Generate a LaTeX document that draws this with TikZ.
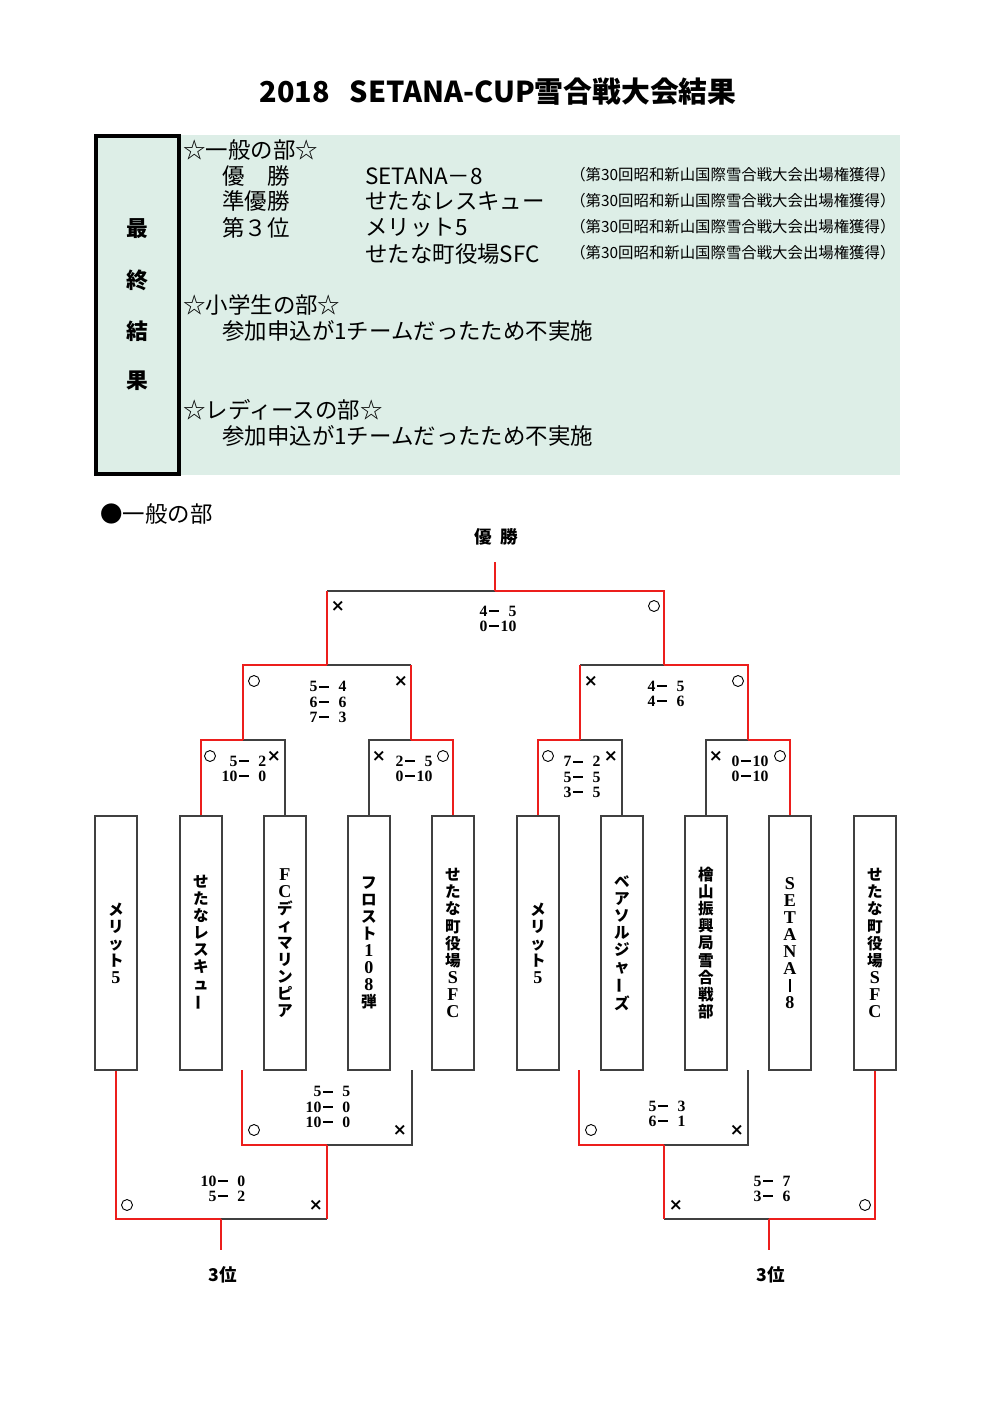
\documentclass[tikz,border=0pt]{standalone}
\usepackage{fontspec}
\usepackage{graphicx}
\setmainfont{Noto Sans CJK JP}
\newfontfamily\serifb{Liberation Serif}
\newfontfamily\djv{DejaVu Sans}
\definecolor{mint}{RGB}{221,238,231}
\definecolor{winred}{RGB}{236,30,28}
\definecolor{losegray}{RGB}{64,64,64}
\newcommand\dsh{\rule[0.26em]{0.6em}{0.13em}}
\newcommand\rr[1]{\makebox[1em][r]{#1}}
\newcommand\sct[1]{\begin{tabular}{@{}r@{\hspace{.12em}}c@{\hspace{.12em}}r@{}}#1\end{tabular}}
\newcommand\tatebo{\rotatebox[origin=c]{90}{ー}}
\newcommand\vrl{\rule[-0.05em]{0.16em}{0.85em}}
\newcommand\ls[1]{{\serifb\fontsize{10.8}{10.2}\selectfont #1}}
\tikzset{
  team/.style={draw=losegray, line width=0.9pt, minimum width=0.882cm, minimum height=5.334cm,
    inner sep=0pt, align=center, font=\bfseries\fontsize{9.3}{10.2}\selectfont},
  rl/.style={draw=winred, line width=1.1pt},
  bl/.style={draw=losegray, line width=0.9pt},
  score/.style={inner sep=0pt, font=\serifb\bfseries\fontsize{9.4}{9}\selectfont},
  omark/.style={circle, draw=black, line width=0.55pt, minimum size=0.23cm, inner sep=0pt},
  xmark/.style={inner sep=0pt, font=\djv\bfseries\fontsize{10}{10}\selectfont},
  lt/.style={anchor=west, inner sep=0pt, font=\fontsize{13.4}{16}\selectfont},
  note/.style={anchor=west, inner sep=0pt, font=\fontsize{9.2}{11}\selectfont},
  side/.style={inner sep=0pt, font=\bfseries\fontsize{13}{15}\selectfont},
  lbl/.style={inner sep=0pt, font=\bfseries\fontsize{10.5}{12}\selectfont}
}
\begin{document}
\begin{tikzpicture}[x=0.021cm,y=-0.021cm]
\useasboundingbox (0,0) rectangle (1000,1414);
% title
\node[inner sep=0pt, font=\bfseries\fontsize{17.2}{20}\selectfont] (title) at (498,92) {2018\hspace{0.7em}SETANA-CUP雪合戦大会結果};
% header panel
\fill[mint] (95,135) rectangle (900,475);
\draw[black, line width=2.2pt] (96,136) rectangle (179,474);
\node[side] (h1) at (137,229) {最};
\node[side] (h2) at (137,280) {終};
\node[side] (h3) at (137,331) {結};
\node[side] (h4) at (137,381) {果};
\node[lt] (g0) at (183,150) {☆一般の部☆};
\node[lt] (g1) at (222,176) {優　勝};
\node[lt] (g2) at (222,201) {準優勝};
\node[lt] (g3) at (222,228) {第３位};
\node[lt] (n1) at (365,176) {SETANA－8};
\node[lt] (n2) at (365,201) {せたなレスキュー};
\node[lt] (n3) at (365,228) {メリット5};
\node[lt] (n4) at (365,254) {せたな町役場SFC};
\node[note] (p1) at (570,175) {（第30回昭和新山国際雪合戦大会出場権獲得）};
\node[note] (p2) at (570,201) {（第30回昭和新山国際雪合戦大会出場権獲得）};
\node[note] (p3) at (570,227) {（第30回昭和新山国際雪合戦大会出場権獲得）};
\node[note] (p4) at (570,253) {（第30回昭和新山国際雪合戦大会出場権獲得）};
\node[lt] (e0) at (183,305) {☆小学生の部☆};
\node[lt] (e1) at (222,331) {参加申込が1チームだったため不実施};
\node[lt] (l0) at (183,410) {☆レディースの部☆};
\node[lt] (l1t) at (222,436) {参加申込が1チームだったため不実施};
% section heading
\node[lt] (sec) at (100,514) {●一般の部};
\node[lbl] (champlbl) at (496,537) {優\hspace{0.5em}勝};
% team boxes
\node[team] (b1) at (116,943) {メ\\リ\\ッ\\ト\\\ls{5}};
\node[team] (b2) at (201,943) {せ\\た\\な\\レ\\ス\\キ\\ュ\\\tatebo};
\node[team] (b3) at (285,943) {\ls{F}\\\ls{C}\\デ\\ィ\\マ\\リ\\ン\\ピ\\ア};
\node[team] (b4) at (369,943) {フ\\ロ\\ス\\ト\\\ls{1}\\\ls{0}\\\ls{8}\\弾};
\node[team] (b5) at (453,943) {せ\\た\\な\\町\\役\\場\\\ls{S}\\\ls{F}\\\ls{C}};
\node[team] (b6) at (538,943) {メ\\リ\\ッ\\ト\\\ls{5}};
\node[team] (b7) at (622,943) {ベ\\ア\\ソ\\ル\\ジ\\ャ\\\tatebo\\ズ};
\node[team] (b8) at (706,943) {檜\\山\\振\\興\\局\\雪\\合\\戦\\部};
\node[team] (b9) at (790,943) {\ls{S}\\\ls{E}\\\ls{T}\\\ls{A}\\\ls{N}\\\ls{A}\\\vrl\\\ls{8}};
\node[team] (b10) at (875,943) {せ\\た\\な\\町\\役\\場\\\ls{S}\\\ls{F}\\\ls{C}};
% junctions
\coordinate (j11) at (243,740);
\coordinate (j12) at (411,740);
\coordinate (j13) at (580,740);
\coordinate (j14) at (748,740);
\coordinate (j21) at (327,665);
\coordinate (j22) at (664,665);
\coordinate (j3) at (495,591);
\coordinate (champ) at (495,562);
\coordinate (l1) at (242,1070);
\coordinate (l2) at (412,1070);
\coordinate (l3) at (579,1070);
\coordinate (l4) at (748,1070);
\coordinate (k1) at (327,1145);
\coordinate (k2) at (221,1219);
\coordinate (k3) at (664,1145);
\coordinate (k4) at (769,1219);
\coordinate (t1) at (221,1250);
\coordinate (t2) at (769,1250);
% losing lines
\draw[bl] (b3.north) |- (j11);
\draw[bl] (b4.north) |- (j12);
\draw[bl] (b7.north) |- (j13);
\draw[bl] (b8.north) |- (j14);
\draw[bl] (j12 |- j21) -- (j21);
\draw[bl] (j13 |- j22) -- (j22);
\draw[bl] (j21 |- j3) -- (j3);
\draw[bl] (l2) |- (k1);
\draw[bl] (k1 |- k2) -- (k2);
\draw[bl] (l4) |- (k3);
\draw[bl] (k3 |- k4) -- (k4);
% winning lines
\draw[rl] (b2.north) |- (j11);
\draw[rl] (b5.north) |- (j12);
\draw[rl] (b6.north) |- (j13);
\draw[rl] (b9.north) |- (j14);
\draw[rl] (j11) |- (j21);
\draw[rl] (j12) -- (j12 |- j21);
\draw[rl] (j13) -- (j13 |- j22);
\draw[rl] (j14) |- (j22);
\draw[rl] (j21) -- (j21 |- j3);
\draw[rl] (j22) |- (j3);
\draw[rl] (j3) -- (champ);
\draw[rl] (l1) |- (k1);
\draw[rl] (k1) -- (k1 |- k2);
\draw[rl] (b1.south) |- (k2);
\draw[rl] (k2) -- (t1);
\draw[rl] (l3) |- (k3);
\draw[rl] (k3) -- (k3 |- k4);
\draw[rl] (b10.south) |- (k4);
\draw[rl] (k4) -- (t2);
% marks
\node[xmark] (mF1) at (338,606) {×};
\node[omark] (mF2) at (654,606) {};
\node[omark] (mL1) at (254,681) {};
\node[xmark] (mL2) at (401,681) {×};
\node[xmark] (mR1) at (591,681) {×};
\node[omark] (mR2) at (738,681) {};
\node[omark] (mA1) at (210,756) {};
\node[xmark] (mA2) at (274,756) {×};
\node[xmark] (mB1) at (379,756) {×};
\node[omark] (mB2) at (443,756) {};
\node[omark] (mC1) at (548,756) {};
\node[xmark] (mC2) at (611,756) {×};
\node[xmark] (mD1) at (716,756) {×};
\node[omark] (mD2) at (780,756) {};
\node[omark] (mS1) at (254,1130) {};
\node[xmark] (mS2) at (400,1130) {×};
\node[omark] (mT1) at (127,1205) {};
\node[xmark] (mT2) at (316,1205) {×};
\node[omark] (mU1) at (591,1130) {};
\node[xmark] (mU2) at (737,1130) {×};
\node[xmark] (mV1) at (676,1205) {×};
\node[omark] (mV2) at (865,1205) {};
% scores
\node[score] (sF) at (498,621) {\sct{4&\dsh&\rr{5}\\0&\dsh&\rr{10}}};
\node[score] (sL) at (328,704) {\sct{5&\dsh&\rr{4}\\6&\dsh&\rr{6}\\7&\dsh&\rr{3}}};
\node[score] (sR) at (666,696) {\sct{4&\dsh&\rr{5}\\4&\dsh&\rr{6}}};
\node[score] (sA) at (244,771) {\sct{5&\dsh&\rr{2}\\10&\dsh&\rr{0}}};
\node[score] (sB) at (414,771) {\sct{2&\dsh&\rr{5}\\0&\dsh&\rr{10}}};
\node[score] (sC) at (582,779) {\sct{7&\dsh&\rr{2}\\5&\dsh&\rr{5}\\3&\dsh&\rr{5}}};
\node[score] (sD) at (750,771) {\sct{0&\dsh&\rr{10}\\0&\dsh&\rr{10}}};
\node[score] (sS) at (328,1109) {\sct{5&\dsh&\rr{5}\\10&\dsh&\rr{0}\\10&\dsh&\rr{0}}};
\node[score] (sT) at (223,1191) {\sct{10&\dsh&\rr{0}\\5&\dsh&\rr{2}}};
\node[score] (sU) at (667,1116) {\sct{5&\dsh&\rr{3}\\6&\dsh&\rr{1}}};
\node[score] (sV) at (772,1191) {\sct{5&\dsh&\rr{7}\\3&\dsh&\rr{6}}};
% third place labels
\node[lbl] (third1) at (223,1275) {3位};
\node[lbl] (third2) at (771,1275) {3位};
\end{tikzpicture}
\end{document}
